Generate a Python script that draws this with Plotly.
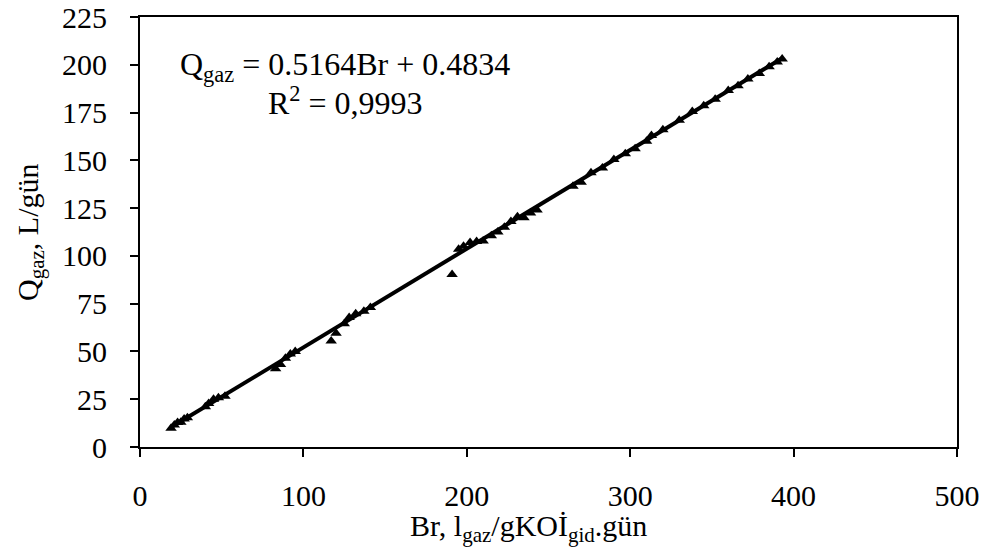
import plotly.graph_objects as go

br = [19, 21, 23, 25, 27, 29, 40, 42, 45, 48, 52, 83, 86, 89, 92, 95,
      117, 120, 125, 128, 132, 137, 141, 191, 195, 198, 202, 206, 210, 215,
      219, 223, 227, 231, 235, 239, 243, 265, 270, 276, 283, 290, 297, 303,
      310, 313, 320, 330, 338, 345, 352, 360, 366, 372, 379, 385, 390, 393]
q_gaz = [9.8, 11.5, 12.8, 13.0, 14.6, 15.3, 21.0, 22.8, 25.0, 25.8, 26.5,
         41.0, 43.2, 46.5, 48.7, 50.0, 55.5, 59.5, 64.5, 67.8, 69.7, 71.0,
         73.0, 90.2, 103.5, 105.0, 107.0, 107.5, 107.8, 110.5, 112.5, 115.0,
         118.0, 120.5, 120.0, 122.5, 124.0, 136.5, 138.5, 143.5, 146.0, 150.5,
         153.5, 156.0, 160.0, 163.0, 166.0, 171.0, 175.5, 178.5, 182.0, 186.5,
         189.0, 192.5, 195.5, 199.0, 201.5, 203.0]

# Linear fit from the chart's equation
slope = 0.5164
intercept = 0.4834
r2_text = "0,9993"

x_ticks = [0, 100, 200, 300, 400, 500]
y_ticks = [0, 25, 50, 75, 100, 125, 150, 175, 200, 225]

fit_x = [min(br), max(br)]
fit_y = [slope * v + intercept for v in fit_x]

FONT = "Liberation Serif"
FS = 30
FS_EQ = 32

fig = go.Figure()
fig.add_trace(go.Scatter(
    x=br, y=q_gaz, mode="markers",
    marker=dict(symbol="triangle-up", size=10, color="black"),
    showlegend=False,
))
fig.add_trace(go.Scatter(
    x=fit_x, y=fit_y, mode="lines",
    line=dict(color="black", width=4),
    showlegend=False,
))

fig.add_annotation(
    x=0.251, y=0.885, xref="paper", yref="paper",
    text=f"Q<sub>gaz</sub> = {slope}Br + {intercept}",
    showarrow=False, xanchor="center", yanchor="middle",
    font=dict(family=FONT, size=FS_EQ, color="black"),
)
fig.add_annotation(
    x=0.251, y=0.805, xref="paper", yref="paper",
    text=f"R<sup>2</sup> = {r2_text}",
    showarrow=False, xanchor="center", yanchor="middle",
    font=dict(family=FONT, size=FS_EQ, color="black"),
)

# Axis titles
fig.add_annotation(
    x=0.475, y=0, xref="paper", yref="paper", yshift=-81,
    text="Br, l<sub>gaz</sub>/gKOİ<sub>gid</sub>.gün",
    showarrow=False, xanchor="center", yanchor="middle",
    font=dict(family=FONT, size=FS, color="black"),
)
fig.add_annotation(
    x=0, y=0.5, xref="paper", yref="paper", xshift=-110,
    text="Q<sub>gaz</sub>, L/gün", textangle=-90,
    showarrow=False, xanchor="center", yanchor="middle",
    font=dict(family=FONT, size=FS, color="black"),
)

axis_common = dict(
    showline=True, linecolor="black", linewidth=2, mirror=True,
    ticks="outside", ticklen=8, tickwidth=1.5, tickcolor="black",
    showgrid=False, zeroline=False, automargin=False,
    ticklabeloverflow="allow",
    tickfont=dict(family=FONT, size=FS, color="black"),
)

fig.update_xaxes(
    range=[0, 500], tickvals=x_ticks, ticktext=[str(v) for v in x_ticks],
    ticklabelstandoff=13,
    **axis_common,
)
fig.update_yaxes(
    range=[0, 225], tickvals=y_ticks, ticktext=[str(v) for v in y_ticks],
    ticklabelstandoff=17,
    **axis_common,
)

fig.update_layout(
    width=983, height=556,
    margin=dict(l=140, r=26, t=17, b=109),
    paper_bgcolor="white", plot_bgcolor="white",
)

# remove the page's default body margin so the figure fills the window
fig.write_html(
    "out.html",
    config={"displayModeBar": False},
    post_script="document.body.style.margin='0';document.body.style.overflow='hidden';",
)
